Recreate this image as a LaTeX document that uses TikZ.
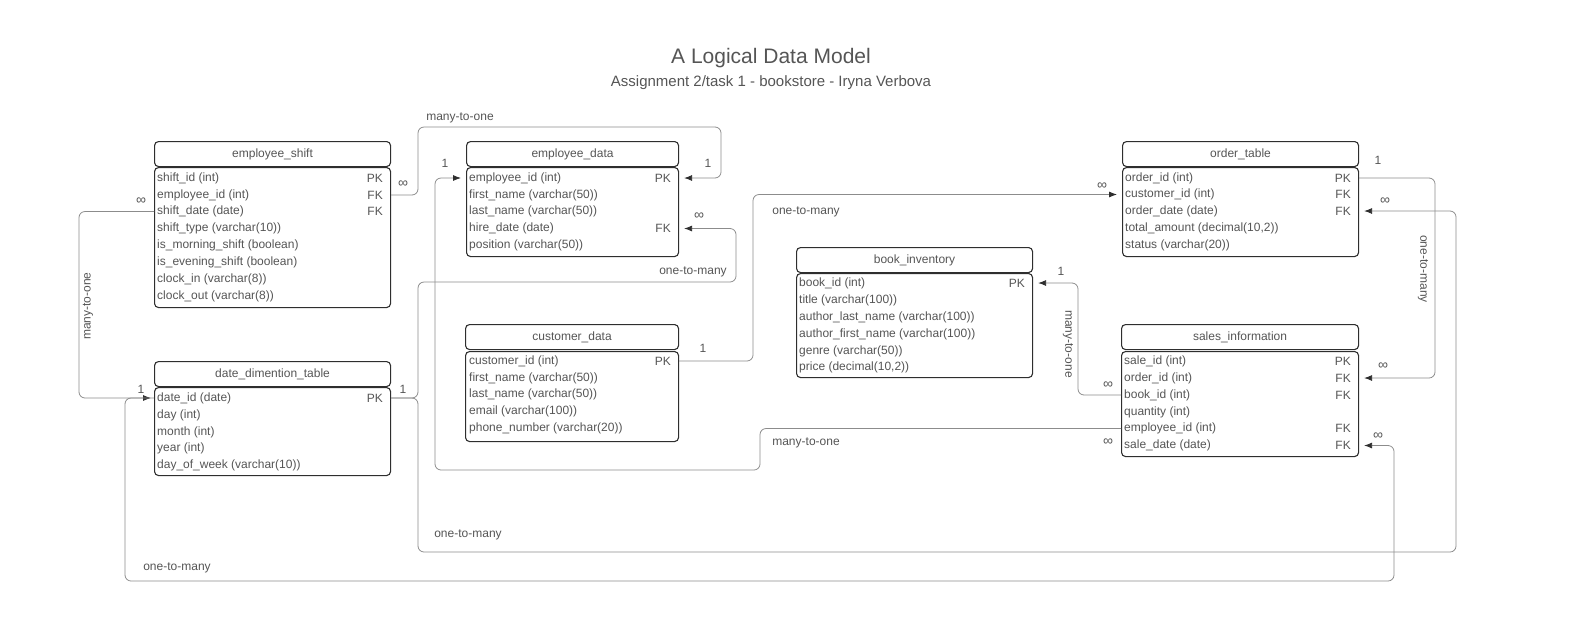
\documentclass[tikz,border=0pt]{standalone}
\usepackage{fontspec}
\setmainfont{Liberation Sans}
\usetikzlibrary{arrows.meta}
\definecolor{txt}{HTML}{555555}
\definecolor{edge}{HTML}{2E2E2E}
\definecolor{wire}{HTML}{8C8C8C}
\begin{document}
\begin{tikzpicture}[x=1pt,y=-1pt,
  hdr/.style={draw=edge, line width=1.1pt, rounded corners=4pt, anchor=north west, minimum height=25pt, inner sep=0pt, text=txt, font=\fontsize{12}{14}\selectfont},
  bdy/.style={draw=edge, line width=1.1pt, rounded corners=4pt, anchor=north west, inner sep=0pt},
  row/.style={anchor=west, inner sep=0pt, text=txt, font=\fontsize{12}{14}\selectfont},
  key/.style={anchor=east, inner sep=0pt, text=txt, font=\fontsize{12}{14}\selectfont},
  lbl/.style={inner sep=0pt, text=txt, font=\fontsize{12}{14}\selectfont},
  inf/.style={inner sep=0pt, text=txt, font=\fontsize{14}{14}\selectfont},
  rel/.style={draw=wire, line width=0.8pt, rounded corners=6pt},
  tip/.style={-{Latex[length=8pt,width=6pt,color=edge]}}]
\useasboundingbox (0,0) rectangle (1592,622);
% title
\node[lbl, font=\fontsize{21}{25}\selectfont] (title) at (771,58) {A Logical Data Model};
\node[lbl, font=\fontsize{15}{18}\selectfont] (subtitle) at (771,83) {Assignment 2/task 1 - bookstore - Iryna Verbova};
% employee_shift
\node[hdr, minimum width=236pt] (esh) at (154,141) {employee\_shift};
\node[bdy, minimum width=236pt, minimum height=140pt] (esb) at (154,167) {};
\node[row] (es1) at (157,178) {shift\_id (int)};
\node[row] (es2) at (157,195) {employee\_id (int)};
\node[row] (es3) at (157,211.5) {shift\_date (date)};
\node[row] (es4) at (157,228.5) {shift\_type (varchar(10))};
\node[row] (es5) at (157,245.5) {is\_morning\_shift (boolean)};
\node[row] (es6) at (157,262.5) {is\_evening\_shift (boolean)};
\node[row] (es7) at (157,279.5) {clock\_in (varchar(8))};
\node[row] (es8) at (157,296) {clock\_out (varchar(8))};
\node[key] (es1k) at (383,178) {PK};
\node[key] (es2k) at (383,195) {FK};
\node[key] (es3k) at (383,211.5) {FK};
% employee_data
\node[hdr, minimum width=212pt] (edh) at (466,141) {employee\_data};
\node[bdy, minimum width=212pt, minimum height=89pt] (edb) at (466,167) {};
\node[row] (ed1) at (469,178) {employee\_id (int)};
\node[row] (ed2) at (469,195) {first\_name (varchar(50))};
\node[row] (ed3) at (469,211.5) {last\_name (varchar(50))};
\node[row] (ed4) at (469,228.5) {hire\_date (date)};
\node[row] (ed5) at (469,245.5) {position (varchar(50))};
\node[key] (ed1k) at (671,178) {PK};
\node[key] (ed4k) at (671,228.5) {FK};
% order_table
\node[hdr, minimum width=236pt] (oth) at (1122,141) {order\_table};
\node[bdy, minimum width=236pt, minimum height=89pt] (otb) at (1122,167) {};
\node[row] (ot1) at (1125,178) {order\_id (int)};
\node[row] (ot2) at (1125,194.5) {customer\_id (int)};
\node[row] (ot3) at (1125,211) {order\_date (date)};
\node[row] (ot4) at (1125,228.5) {total\_amount (decimal(10,2))};
\node[row] (ot5) at (1125,245.5) {status (varchar(20))};
\node[key] (ot1k) at (1351,178) {PK};
\node[key] (ot2k) at (1351,194.5) {FK};
\node[key] (ot3k) at (1351,211) {FK};
% book_inventory
\node[hdr, minimum width=236pt] (bih) at (796,247) {book\_inventory};
\node[bdy, minimum width=236pt, minimum height=104pt] (bib) at (796,273) {};
\node[row] (bi1) at (799,283) {book\_id (int)};
\node[row] (bi2) at (799,300) {title (varchar(100))};
\node[row] (bi3) at (799,317) {author\_last\_name (varchar(100))};
\node[row] (bi4) at (799,334) {author\_first\_name (varchar(100))};
\node[row] (bi5) at (799,351) {genre (varchar(50))};
\node[row] (bi6) at (799,367.5) {price (decimal(10,2))};
\node[key] (bi1k) at (1025,283) {PK};
% customer_data
\node[hdr, minimum width=213pt] (cdh) at (465,324) {customer\_data};
\node[bdy, minimum width=213pt, minimum height=90pt] (cdb) at (465,351) {};
\node[row] (cd1) at (469,361) {customer\_id (int)};
\node[row] (cd2) at (469,378) {first\_name (varchar(50))};
\node[row] (cd3) at (469,394.5) {last\_name (varchar(50))};
\node[row] (cd4) at (469,411.5) {email (varchar(100))};
\node[row] (cd5) at (469,428.5) {phone\_number (varchar(20))};
\node[key] (cd1k) at (671,361) {PK};
% date_dimention_table
\node[hdr, minimum width=236pt] (ddh) at (154,361) {date\_dimention\_table};
\node[bdy, minimum width=236pt, minimum height=88pt] (ddb) at (154,387) {};
\node[row] (dd1) at (157,398) {date\_id (date)};
\node[row] (dd2) at (157,415) {day (int)};
\node[row] (dd3) at (157,432) {month (int)};
\node[row] (dd4) at (157,448.5) {year (int)};
\node[row] (dd5) at (157,465) {day\_of\_week (varchar(10))};
\node[key] (dd1k) at (383,398) {PK};
% sales_information
\node[hdr, minimum width=237pt] (sih) at (1121,324) {sales\_information};
\node[bdy, minimum width=237pt, minimum height=105pt] (sib) at (1121,351) {};
\node[row] (si1) at (1124,361) {sale\_id (int)};
\node[row] (si2) at (1124,378) {order\_id (int)};
\node[row] (si3) at (1124,395) {book\_id (int)};
\node[row] (si4) at (1124,412) {quantity (int)};
\node[row] (si5) at (1124,428.5) {employee\_id (int)};
\node[row] (si6) at (1124,445.5) {sale\_date (date)};
\node[key] (si1k) at (1351,361) {PK};
\node[key] (si2k) at (1351,378) {FK};
\node[key] (si3k) at (1351,395) {FK};
\node[key] (si5k) at (1351,428.5) {FK};
\node[key] (si6k) at (1351,445.5) {FK};
% relationships
\draw[rel, tip] (esb.east |- es2) -| (418,127) -| (721,178) -- ([xshift=5pt]edb.east |- ed1);
\node[lbl] (r1) at (460,118) {many-to-one};
\node[inf] (r1a) at (403,184) {∞};
\node[lbl] (r1b) at (708,163) {1};
\draw[rel, tip] (esb.west |- es3) -| (79,398) -- ([xshift=-3pt]ddb.west |- dd1);
\node[lbl, rotate=90] (r2) at (88,306) {many-to-one};
\node[inf] (r2a) at (141,201) {∞};
\node[lbl] (r2b) at (141,389) {1};
\draw[rel, tip] (ddb.east |- dd1) -| (418,282) -| (736,228.5) -- ([xshift=5pt]edb.east |- ed4);
\node[lbl] (r3) at (693,272) {one-to-many};
\node[inf] (r3a) at (699,216) {∞};
\node[lbl] (r3b) at (403,389) {1};
\draw[rel, tip] (ddb.east |- dd1) -| (418,552) -| (1456,211) -- ([xshift=5pt]otb.east |- ot3);
\node[lbl] (r4) at (468,535) {one-to-many};
\node[inf] (r4a) at (1385,201) {∞};
\draw[rel, tip] (ddb.west |- dd1) -| (125,581) -| (1394,445.5) -- ([xshift=5pt]sib.east |- si6);
\node[lbl] (r5) at (177,568) {one-to-many};
\node[inf] (r5a) at (1378,436) {∞};
\draw[rel, tip] (cdb.east |- cd1) -| (753,194.5) -- ([xshift=-5pt]otb.west |- ot2);
\node[lbl] (r6) at (806,212) {one-to-many};
\node[inf] (r6a) at (1102,186) {∞};
\node[lbl] (r6b) at (703,348) {1};
\draw[rel, tip] (sib.west |- si5) -| (760,470) -| (435,178) -- ([xshift=-5pt]edb.west |- ed1);
\node[lbl] (r7) at (806,443) {many-to-one};
\node[inf] (r7a) at (1108,442) {∞};
\node[lbl] (r7b) at (445,163) {1};
\draw[rel, tip] (sib.west |- si3) -| (1078,283) -- ([xshift=5pt]bib.east |- bi1);
\node[lbl, rotate=-90] (r8) at (1068,344) {many-to-one};
\node[inf] (r8a) at (1108,385) {∞};
\node[lbl] (r8b) at (1061,271) {1};
\draw[rel, tip] (otb.east |- ot1) -| (1435,378) -- ([xshift=5pt]sib.east |- si2);
\node[lbl, rotate=-90] (r9) at (1423,269) {one-to-many};
\node[inf] (r9a) at (1383,366) {∞};
\node[lbl] (r9b) at (1378,160) {1};
\end{tikzpicture}
\end{document}
